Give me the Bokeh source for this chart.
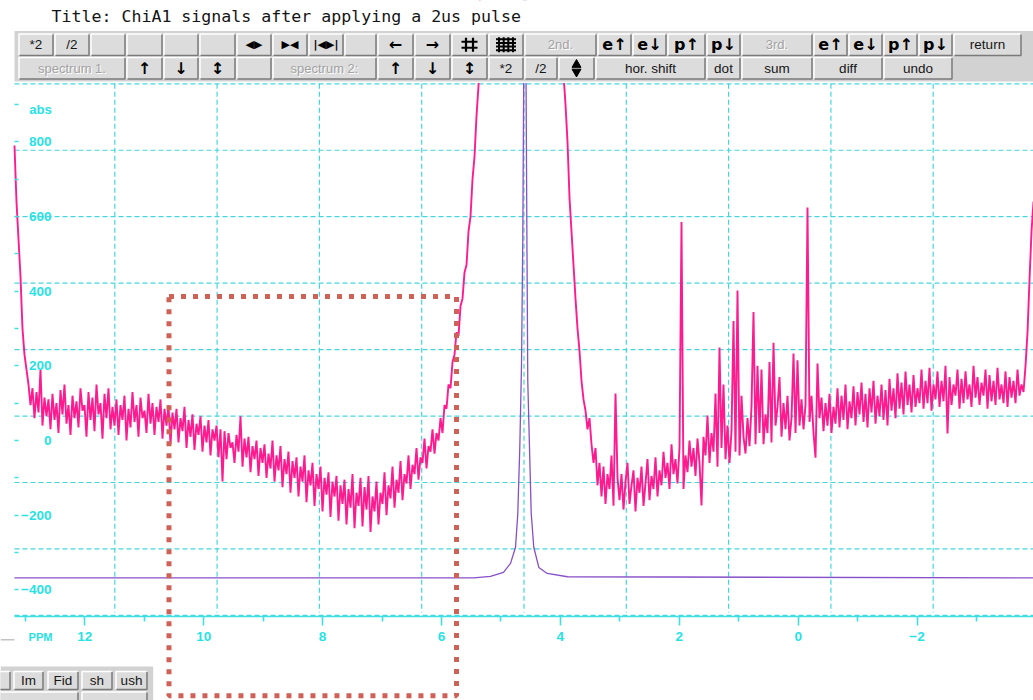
import numpy as np
from bokeh.plotting import figure
from bokeh.models import Range1d, LinearAxis, FixedTicker, BoxAnnotation
from bokeh.core.properties import value
from bokeh.embed import file_html
from bokeh.resources import INLINE

TITLE = "Title: ChiA1 signals after applying a 2us pulse"

# ---------------------------------------------------------------- data
# Spectrum 1 (magenta): the two on-scale stretches either side of the water line.
# Each stretch is evenly sampled between its first and last chemical shift (ppm).
spec1_left_ppm = (13.182, 5.343)
spec1_left_abs = [
    790, 640, 540, 440, 300, 230, 190, 150, 95, 140,
    60, 130, 75, 190, 40, 115, 65, 110, 30, 125,
    55, 100, 20, 135, 70, 150, 45, 95, 15, 120,
    60, 105, 35, 140, 80, 95, 10, 130, 55, 115,
    25, 150, 70, 100, 5, 125, 60, 140, 30, 90,
    40, 110, 15, 95, 55, 120, 0, 85, 35, 130,
    50, 95, 10, 115, 60, 80, 20, 125, 45, 100,
    15, 90, 50, 110, 5, 85, 40, 95, -10, 75,
    30, 85, -5, 60, 25, 90, -20, 55, 10, 70,
    -25, 45, 15, 65, -30, 40, -5, 55, -40, 30,
    0, 40, -45, 30, -110, 25, -50, 20, -20, -5,
    -60, 15, -30, 65, -70, 5, -45, 10, -85, -15,
    -50, 0, -95, -20, -60, -10, -100, -35, -75, 0,
    -110, -40, -80, -15, -125, -50, -90, -30, -140, -55,
    -100, -45, -150, -70, -110, -40, -165, -80, -120, -60,
    -175, -90, -130, -70, -190, -100, -145, -85, -205, -110,
    -150, -95, -215, -120, -170, -105, -225, -130, -180, -90,
    -235, -140, -175, -100, -230, -125, -185, -95, -245, -150,
    -190, -110, -225, -140, -170, -85, -200, -120, -155, -70,
    -180, -105, -140, -55, -160, -90, -115, -40, -130, -65,
    -90, -20, -105, -45, -60, 5, -75, -15, -30, 30,
    -35, 20, 0, 60, 20, 95, 85, 150, 140, 210,
    230, 290, 280, 360, 380, 450, 470, 560, 600, 700,
    760, 870, 950, 1300,
]

spec1_right_ppm = (3.947, -3.959)
spec1_right_abs = [
    980, 900, 800, 650, 560, 470, 380, 300, 240,
    160, 110, 80, 30, 60, -10, -60, -20, -120, -60,
    -150, -70, -170, -90, -130, -40, -175, 126, -100, -160,
    -90, -185, -110, -60, -170, -120, -80, -190, -100, -140,
    -70, -175, -115, -50, -160, -95, -130, -45, -150, -80,
    -120, -30, -100, -60, -130, -10, -90, -50, -115, -20,
    585, -130, -40, -85, 0, -70, -20, -95, 5, -60,
    -174, 10, -40, 67, -60, 20, -30, 126, -70, 249,
    -20, 150, -50, 40, -60, 25, 320, -30, 402, -40,
    120, 10, -35, 60, -15, 90, 344, -10, 200, 20,
    190, -10, 70, 20, 210, -5, 262, 40, 90, 170,
    10, 100, 30, 120, 0, 60, 233, 20, 215, 40,
    110, 30, 95, 624, 50, 120, 20, -46, 206, 60,
    115, 25, 100, 40, 125, 20, 90, 45, 140, 35,
    120, 55, 150, 30, 105, 60, 145, 40, 130, 70,
    155, 50, 125, 35, 140, 75, 160, 45, 120, 65,
    150, 55, 135, 40, 165, 80, 140, 60, 180, 85,
    155, 70, 185, 95, 150, 75, 175, 90, 140, 100,
    190, 85, 160, 100, 195, 80, 150, 110, 185, 90,
    160, 105, 200, 19, 170, 95, 150, 120, 190, 85,
    165, 100, 185, 110, 150, 90, 200, 115, 170, 95,
    155, 120, 190, 85, 175, 105, 160, 95, 195, 110,
    150, 100, 185, 90, 170, 115, 160, 100, 190, 120,
    150, 130, 200, 290, 430, 560, 640,
]

# Spectrum 2 (purple): the water line on a flat baseline
spec2_ppm = [13.182, 5.456, 5.175, 4.956, 4.838, 4.754, 4.716, 4.682, 4.653, 4.632,
             4.615, 4.596, 4.578, 4.561, 4.548, 4.519, 4.490, 4.447, 4.362, 4.221,
             3.880, -3.959]
spec2_abs = [-368, -368, -364, -353, -329, -286, -196, -19, 206, 536,
             1000, 5000, 1000, 500, 160, -19, -195, -286, -340, -356,
             -365, -368]

x_tick_labels = [12, 10, 8, 6, 4, 2, 0, -2]
x_minor_ticks = [13, 11, 9, 7, 5, 3, 1, -1, -3]
y_tick_labels = [800, 600, 400, 200, 0, -200, -400]
y_small_ticks = [-400, -300, -200, -100, 0, 100, 200, 300, 400, 500, 600, 700, 800, 900]

# highlighted region (ppm from / to, abs from / to)
box_ppm = (10.583, 5.747)
box_abs = (386, -684)

# ---------------------------------------------------------------- geometry
W, H = 1033, 700
PPM_ZERO_PX = 797.65
PX_PER_PPM = 59.45
ABS_ZERO_PY = 440.0
PX_PER_ABS = 0.37333


def ppm_at(px):
    return (PPM_ZERO_PX - px) / PX_PER_PPM


def abs_at(py):
    return (ABS_ZERO_PY - py) / PX_PER_ABS


CYAN_GRID = "#44d6de"
CYAN_AXIS = "#3fdfe2"
CYAN_TEXT = "#27e2e4"
MAGENTA = "#ff1a8f"
PURPLE = "#8650c8"
RED_BOX = "#cf6257"
PANEL = "#d2d2d2"
BTN_FACE = "#dcdcdc"
BTN_LIGHT = "#ffffff"
BTN_DARK = "#7a7a7a"

p = figure(width=W, height=H,
           x_range=Range1d(ppm_at(0), ppm_at(W)),
           y_range=Range1d(abs_at(H), abs_at(0)),
           x_axis_type=None, y_axis_type=None,
           output_backend="svg", toolbar_location=None, min_border=0)
p.outline_line_color = None
p.background_fill_color = "white"
p.border_fill_color = "white"
p.extra_x_ranges = {"px": Range1d(0, W)}
p.extra_y_ranges = {"px": Range1d(H, 0)}
SCR = dict(x_range_name="px", y_range_name="px")

# ---------------------------------------------------------------- screen grid
grid_cols = [114.3 + 102.3 * k for k in range(9)]
grid_rows = [83.3 + 66.45 * k for k in range(9)]
p.segment(x0=grid_cols, y0=83.3, x1=grid_cols, y1=612, line_color=CYAN_GRID,
          line_width=1.2, line_dash="5 3", **SCR)
p.segment(x0=14, y0=grid_rows, x1=W, y1=grid_rows, line_color=CYAN_GRID,
          line_width=1.2, line_dash="5 3", **SCR)

# ---------------------------------------------------------------- spectra
p.line(spec2_ppm, spec2_abs, line_color=PURPLE, line_width=1.3)
p.line(np.linspace(*spec1_left_ppm, len(spec1_left_abs)), spec1_left_abs,
       line_color=MAGENTA, line_width=1.9)
p.line(np.linspace(*spec1_right_ppm, len(spec1_right_abs)), spec1_right_abs,
       line_color=MAGENTA, line_width=1.9)

# ---------------------------------------------------------------- axes
x_axis = LinearAxis(
    fixed_location=abs_at(616),
    bounds=(ppm_at(W), ppm_at(14)),
    ticker=FixedTicker(ticks=x_tick_labels, minor_ticks=x_minor_ticks),
    axis_line_color=CYAN_AXIS, axis_line_width=1.6,
    major_tick_line_color=CYAN_AXIS, major_tick_line_width=1.6,
    major_tick_in=0, major_tick_out=9,
    minor_tick_line_color=CYAN_AXIS, minor_tick_line_width=1.6,
    minor_tick_in=0, minor_tick_out=5,
    major_label_standoff=6,
    major_label_text_color=CYAN_TEXT,
    major_label_text_font="Liberation Sans",
    major_label_text_font_style="bold",
    major_label_text_font_size="13.5px",
)
p.add_layout(x_axis, "below")

y_label_axis = LinearAxis(
    fixed_location=ppm_at(53),
    ticker=FixedTicker(ticks=y_tick_labels),
    axis_line_color=None,
    major_tick_line_color=None, major_tick_in=0, major_tick_out=0,
    minor_tick_line_color=None,
    major_label_standoff=2,
    major_label_text_color=CYAN_TEXT,
    major_label_text_font="Liberation Sans",
    major_label_text_font_style="bold",
    major_label_text_font_size="13.5px",
)
p.add_layout(y_label_axis, "left")

y_tick_axis = LinearAxis(
    fixed_location=ppm_at(14),
    ticker=FixedTicker(ticks=y_small_ticks),
    axis_line_color=None,
    major_tick_line_color=CYAN_AXIS, major_tick_line_width=1.5,
    major_tick_in=0, major_tick_out=4,
    minor_tick_line_color=None,
    major_label_text_color=None,
)
p.add_layout(y_tick_axis, "right")

p.text(x=[40], y=[109], text=["abs"], text_color=CYAN_TEXT,
       text_font=value("Liberation Sans"), text_font_style="bold",
       text_font_size=value("13px"), text_align="center", text_baseline="middle", **SCR)
p.text(x=[40], y=[636], text=["PPM"], text_color=CYAN_TEXT,
       text_font=value("Liberation Sans"), text_font_style="bold",
       text_font_size=value("11px"), text_align="center", text_baseline="middle", **SCR)

# ---------------------------------------------------------------- window chrome
p.quad(left=0, right=W, top=-10, bottom=82.5, fill_color="white", line_color=None, **SCR)
p.text(x=[51], y=[16], text=[TITLE], text_color="#141414",
       text_font=value("DejaVu Sans Mono"), text_font_size=value("16.6px"),
       text_align="left", text_baseline="middle", **SCR)

p.quad(left=14, right=W, top=30.5, bottom=81, fill_color=PANEL, line_color=None, **SCR)

toolbar_row1 = [
    ("*2", 18, 53, "txt"), ("/2", 54, 89, "txt"), ("", 90, 125, ""), ("", 126, 162, ""),
    ("", 163, 198, ""), ("", 199, 235, ""), ("◀▶", 236, 271, "tri"), ("▶◀", 272, 307, "tri"),
    ("|◀▶|", 308, 343, "tri"), ("", 344, 376, ""), ("←", 377, 413, "sym"), ("→", 414, 450, "sym"),
    ("", 451, 487, "hash2"), ("", 488, 523, "hash3"), ("2nd.", 524, 596, "dim"),
    ("e↑", 597, 631, "sym"), ("e↓", 632, 666, "sym"), ("p↑", 667, 705, "sym"), ("p↓", 706, 740, "sym"),
    ("3rd.", 741, 812, "dim"), ("e↑", 813, 847, "sym"), ("e↓", 848, 882, "sym"),
    ("p↑", 883, 917, "sym"), ("p↓", 918, 952, "sym"), ("return", 953, 1021, "txt"),
]
toolbar_row2 = [
    ("spectrum 1.", 18, 125, "dim"), ("↑", 126, 162, "sym"), ("↓", 163, 198, "sym"),
    ("↕", 199, 235, "sym"), ("", 236, 271, ""), ("spectrum 2:", 272, 376, "dim"),
    ("↑", 377, 413, "sym"), ("↓", 414, 450, "sym"), ("↕", 451, 487, "sym"),
    ("*2", 488, 523, "txt"), ("/2", 524, 557, "txt"), ("", 558, 594, "updown"),
    ("hor. shift", 595, 705, "txt"), ("dot", 706, 740, "txt"), ("sum", 741, 812, "txt"),
    ("diff", 813, 882, "txt"), ("undo", 883, 952, "txt"),
]
side_panel_row1 = [("", -22, 10, ""), ("Im", 13, 43, "txt"), ("Fid", 47, 78, "txt"),
                   ("sh", 81, 112, "txt"), ("ush", 115, 147, "txt")]
side_panel_row2 = [("", -5, 78, ""), ("", 81, 147, "")]


def add_buttons(buttons, top, bottom):
    x0 = [b[1] for b in buttons]
    x1 = [b[2] for b in buttons]
    n = len(buttons)
    p.quad(left=x0, right=x1, top=top, bottom=bottom, fill_color=BTN_FACE, line_color=None, **SCR)
    p.multi_line(xs=[[a + 0.5, a + 0.5, b - 1] for a, b in zip(x0, x1)],
                 ys=[[bottom - 1, top + 0.5, top + 0.5]] * n,
                 line_color=BTN_LIGHT, line_width=1.5, **SCR)
    p.multi_line(xs=[[a + 1, b - 0.5, b - 0.5] for a, b in zip(x0, x1)],
                 ys=[[bottom - 0.5, bottom - 0.5, top + 1]] * n,
                 line_color=BTN_DARK, line_width=1.5, **SCR)
    cy = (top + bottom) / 2
    by_kind = {}
    for label, a, b, kind in buttons:
        by_kind.setdefault(kind, []).append(((a + b) / 2, label))
    if "txt" in by_kind:
        xs, ts = zip(*by_kind["txt"])
        p.text(x=list(xs), y=cy, text=list(ts), text_color="#161616",
               text_font=value("Liberation Sans"), text_font_size=value("13.5px"),
               text_align="center", text_baseline="middle", **SCR)
    if "dim" in by_kind:
        xs, ts = zip(*by_kind["dim"])
        p.text(x=[x + 1 for x in xs], y=cy + 1, text=list(ts), text_color="white",
               text_font=value("Liberation Sans"), text_font_size=value("13px"),
               text_align="center", text_baseline="middle", **SCR)
        p.text(x=list(xs), y=cy, text=list(ts), text_color="#a2a2a2",
               text_font=value("Liberation Sans"), text_font_size=value("13px"),
               text_align="center", text_baseline="middle", **SCR)
    if "sym" in by_kind:
        xs, ts = zip(*by_kind["sym"])
        p.text(x=list(xs), y=cy, text=list(ts), text_color="black",
               text_font=value("DejaVu Sans"), text_font_style="bold",
               text_font_size=value("16px"), text_align="center",
               text_baseline="middle", **SCR)
    if "tri" in by_kind:
        xs, ts = zip(*by_kind["tri"])
        p.text(x=list(xs), y=cy, text=list(ts), text_color="black",
               text_font=value("DejaVu Sans"), text_font_style="bold",
               text_font_size=value("11px"), text_align="center",
               text_baseline="middle", **SCR)
    for cx, _ in by_kind.get("hash2", []):
        p.segment(x0=[cx - 3.5, cx + 3.5, cx - 8, cx - 8], y0=[cy - 7, cy - 7, cy - 3, cy + 3],
                  x1=[cx - 3.5, cx + 3.5, cx + 8, cx + 8], y1=[cy + 7, cy + 7, cy - 3, cy + 3],
                  line_color="black", line_width=2.2, **SCR)
    for cx, _ in by_kind.get("hash3", []):
        p.segment(x0=[cx - 7, cx - 2.3, cx + 2.3, cx + 7, cx - 10, cx - 10, cx - 10, cx - 10],
                  y0=[cy - 7.5, cy - 7.5, cy - 7.5, cy - 7.5, cy - 5.5, cy - 1.8, cy + 1.8, cy + 5.5],
                  x1=[cx - 7, cx - 2.3, cx + 2.3, cx + 7, cx + 10, cx + 10, cx + 10, cx + 10],
                  y1=[cy + 7.5, cy + 7.5, cy + 7.5, cy + 7.5, cy - 5.5, cy - 1.8, cy + 1.8, cy + 5.5],
                  line_color="black", line_width=2, **SCR)
    for cx, _ in by_kind.get("updown", []):
        p.scatter(x=[cx, cx], y=[cy - 3.5, cy + 3.5], marker="triangle", angle=[0, np.pi],
                  size=9, fill_color="black", line_color="black", **SCR)


add_buttons(toolbar_row1, 33, 55.5)
add_buttons(toolbar_row2, 56.5, 79)

# lower-left panel (partly outside the window)
p.segment(x0=0, y0=639.3, x1=14, y1=639.3, line_color="#c4c4c4", line_width=1.5, **SCR)
p.quad(left=0, right=152.7, top=666, bottom=H, fill_color=PANEL, line_color=None, **SCR)
add_buttons(side_panel_row1, 670.5, 689.5)
add_buttons(side_panel_row2, 691, 712)

# ---------------------------------------------------------------- highlight box
p.add_layout(BoxAnnotation(left=box_ppm[0], right=box_ppm[1], top=box_abs[0], bottom=box_abs[1],
                           fill_color=None, fill_alpha=0, line_color=RED_BOX, line_alpha=1.0,
                           line_width=5, line_dash="5 7"))

html = file_html(p, INLINE, title="ChiA1 signals")
with open("out.html", "w") as f:
    f.write(html)
